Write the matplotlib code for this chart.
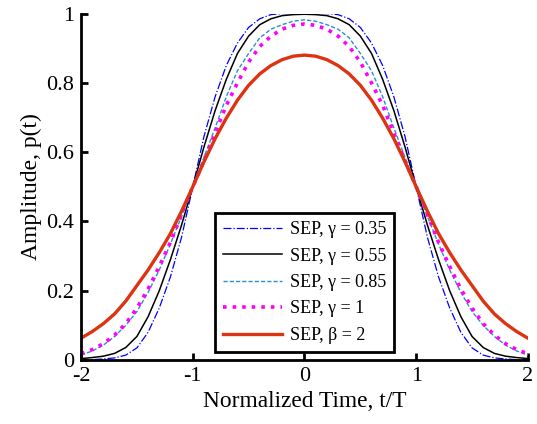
import numpy as np
import matplotlib
matplotlib.use("Agg")
import matplotlib.pyplot as plt

plt.rcParams['font.family'] = ['Liberation Serif', 'DejaVu Serif']
plt.rcParams['axes.unicode_minus'] = False

# normalized time grid, t/T
t = np.round(np.arange(-2.0, 2.0001, 0.1), 2)

# values for t = 0, 0.1, ..., 2 (pulses are even in t)
half_g035 = [1.0, 1.0, 1.0, 0.997, 0.985, 0.96, 0.915, 0.85, 0.76, 0.645, 0.50,
             0.355, 0.24, 0.15, 0.08, 0.035, 0.014, 0.006, 0.003, 0.001, 0.0]
half_g055 = [0.998, 0.997, 0.994, 0.985, 0.968, 0.935, 0.885, 0.81, 0.72, 0.615, 0.50,
             0.39, 0.29, 0.20, 0.125, 0.068, 0.036, 0.019, 0.011, 0.007, 0.004]
half_g085 = [0.982, 0.978, 0.968, 0.955, 0.93, 0.885, 0.835, 0.76, 0.67, 0.585, 0.50,
             0.415, 0.335, 0.26, 0.195, 0.14, 0.10, 0.068, 0.043, 0.026, 0.014]
half_g1 = [0.970, 0.966, 0.955, 0.935, 0.905, 0.86, 0.80, 0.735, 0.655, 0.575, 0.50,
           0.42, 0.34, 0.27, 0.205, 0.15, 0.105, 0.072, 0.047, 0.030, 0.018]
half_b2 = [0.880, 0.877, 0.867, 0.850, 0.826, 0.793, 0.750, 0.698, 0.639, 0.572, 0.50,
           0.430, 0.365, 0.31, 0.26, 0.215, 0.17, 0.133, 0.105, 0.082, 0.063]

labels = ['SEP, \u03b3 = 0.35', 'SEP, \u03b3 = 0.55', 'SEP, \u03b3 = 0.85',
          'SEP, \u03b3 = 1', 'SEP, \u03b2 = 2']


def full(half):
    return np.array(half[:0:-1] + half)


fig = plt.figure(figsize=(5.37, 4.24), dpi=100)
ax = fig.add_axes([0.151, 0.151, 0.832, 0.817])

ax.plot(t, full(half_g035), '-.', color='blue', lw=0.9, label=labels[0])
ax.plot(t, full(half_g055), '-', color='black', lw=1.1, label=labels[1])
ax.plot(t, full(half_g085), '--', color='#2b8fcf', lw=1.0, dashes=(3, 1.5), label=labels[2])
ax.plot(t, full(half_g1), ':', color='magenta', lw=2.6, label=labels[3])
ax.plot(t, full(half_b2), '-', color='#dd3311', lw=2.4, label=labels[4])

ax.set_xlim(-2, 2)
ax.set_ylim(0, 1)
ax.set_xticks([-2, -1, 0, 1, 2])
ax.set_xticklabels(['-2', '-1', '0', '1', '2'])
ax.set_yticks([0, 0.2, 0.4, 0.6, 0.8, 1])
ax.set_yticklabels(['0', '0.2', '0.4', '0.6', '0.8', '1'])
ax.tick_params(direction='in', length=5, width=2, labelsize=16, pad=5)

for s in ['top', 'right']:
    ax.spines[s].set_visible(False)
for s in ['left', 'bottom']:
    ax.spines[s].set_linewidth(2)

ax.set_xlabel('Normalized Time, t/T', fontsize=16.8, labelpad=4)
ax.set_ylabel('Amplitude, p(t)', fontsize=17, labelpad=3)

leg = ax.legend(loc='lower center', bbox_to_anchor=(0.5, 0.023), fontsize=13,
                fancybox=False, framealpha=1, edgecolor='black',
                handlelength=3.3, handletextpad=0.4, labelspacing=0.52,
                borderpad=0.45, borderaxespad=0)
leg.get_frame().set_linewidth(2)

fig.savefig('out.png', dpi=100)
